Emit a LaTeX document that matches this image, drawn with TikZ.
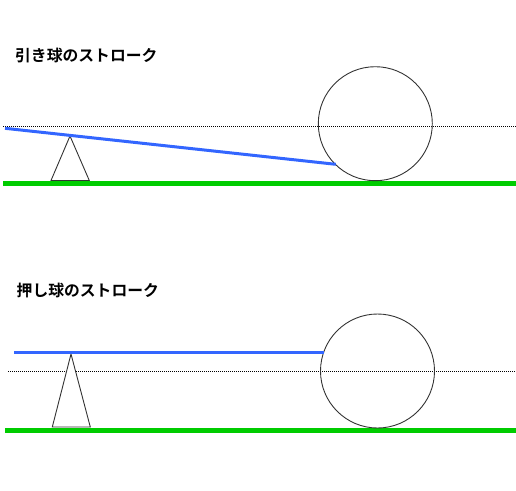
\documentclass[tikz,border=0pt]{standalone}
\usepackage{fontspec}
\newfontfamily\jpfont{Noto Sans CJK JP}[BoldFont={* Bold}]
\begin{document}
\begin{tikzpicture}[x=1pt,y=-1pt,
  title/.style={anchor=west,inner sep=0pt,font=\jpfont\bfseries\fontsize{15.8}{15.8}\selectfont},
  cue/.style={draw={rgb,255:red,51;green,102;blue,255},line width=3pt},
  floor/.style={draw={rgb,255:red,0;green,204;blue,0},line width=4.8pt},
  guide/.style={draw=black,line width=0.9pt,dash pattern=on 1pt off 1pt},
  ball/.style={circle,draw=black!80,line width=0.9pt,minimum size=114pt,inner sep=0pt},
  bridge/.style={draw=black!80,line width=0.9pt,fill=white}]
\useasboundingbox (0,0) rectangle (516,490);
% top panel
\node[title] (t1) at (15,55.5) {引き球のストローク};
\coordinate (g1a) at (3,126); \coordinate (g1b) at (516,126);
\draw[guide] (g1a) -- (g1b);
\coordinate (f1a) at (3,183.3); \coordinate (f1b) at (516,183.3);
\draw[floor] (f1a) -- (f1b);
\node[ball] (b1) at (375.3,123.7) {};
\coordinate (p1) at (70,136); \coordinate (p1l) at (51,180.5); \coordinate (p1r) at (89.3,180.5);
\draw[bridge] (p1) -- (p1l) -- (p1r) -- cycle;
\coordinate (c1a) at (5,128.3); \coordinate (c1b) at (335.7,164.3);
\draw[cue] (c1a) -- (c1b);
% bottom panel
\node[title] (t2) at (16.5,290) {押し球のストローク};
\coordinate (g2a) at (8,371.8); \coordinate (g2b) at (516,371.8);
\draw[guide] (g2a) -- (g2b);
\coordinate (f2a) at (5,430.5); \coordinate (f2b) at (516,430.5);
\draw[floor] (f2a) -- (f2b);
\node[ball] (b2) at (377.5,371) {};
\coordinate (p2) at (71,354); \coordinate (p2l) at (52.3,427); \coordinate (p2r) at (90.3,427);
\draw[bridge] (p2) -- (p2l) -- (p2r) -- cycle;
\coordinate (c2a) at (14,352.2); \coordinate (c2b) at (323.5,352.2);
\draw[cue] (c2a) -- (c2b);
\end{tikzpicture}
\end{document}
